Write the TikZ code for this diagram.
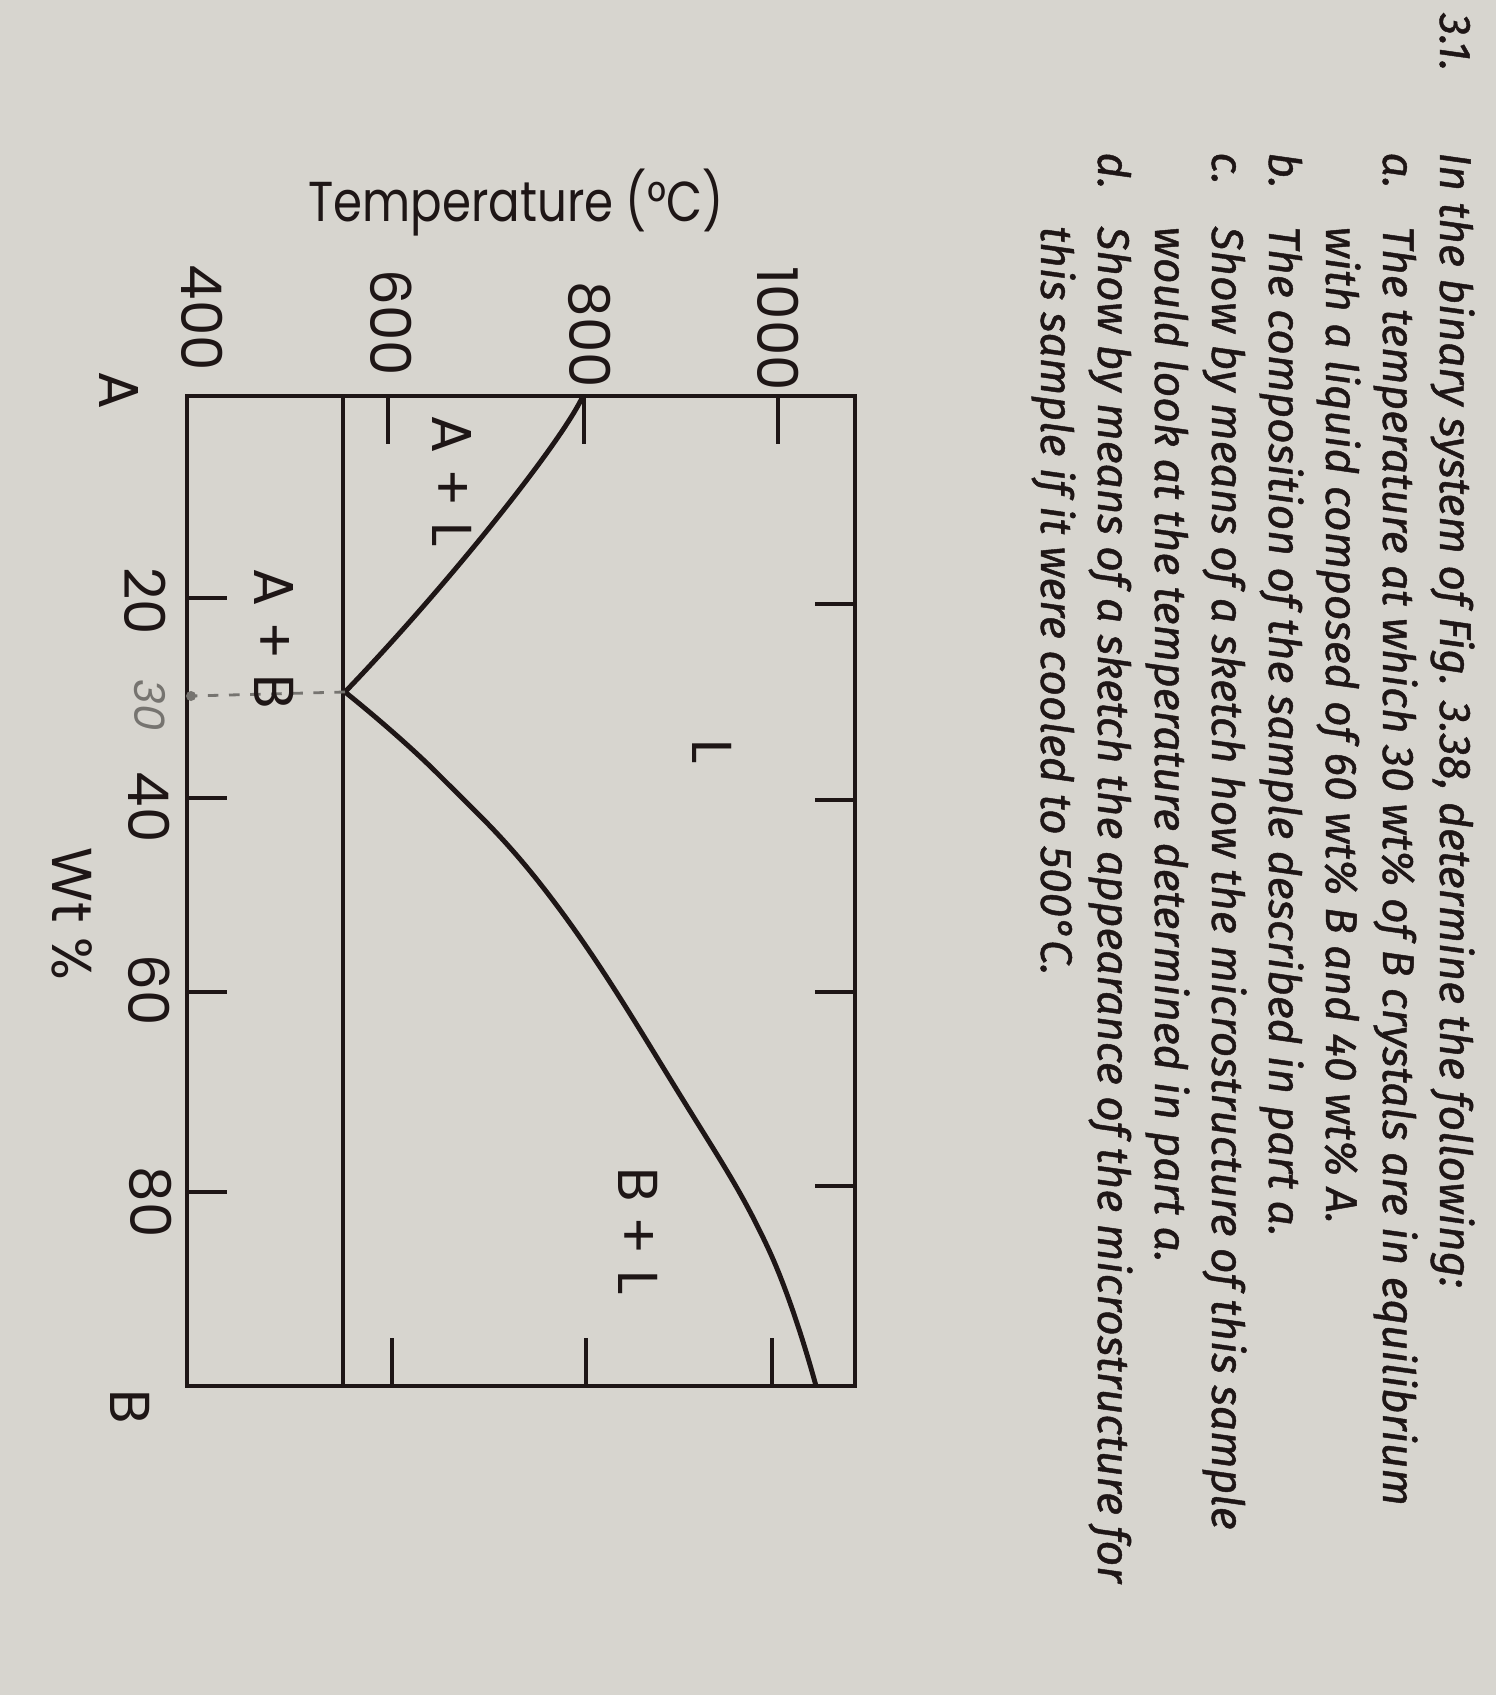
\documentclass[tikz,border=0pt]{standalone}
\usepackage{fontspec}
\setmainfont{Fira Sans}[ItalicFeatures={FakeBold=1}]
\newfontfamily\plotfont{Poppins}
\newfontfamily\ylabfont{Poppins}[FakeStretch=0.83]
\usetikzlibrary{positioning}
\definecolor{paper}{RGB}{215,213,207}
\definecolor{ink}{RGB}{30,22,22}
\definecolor{pencil}{RGB}{118,116,112}

\begin{document}
\begin{tikzpicture}[x=0.01cm, y=-0.01cm, line width=1.4pt, draw=ink,
    axlabel/.style={font=\plotfont\fontsize{16}{18}\selectfont, text=ink, rotate=-90, inner sep=0pt},
    qtext/.style={font=\itshape\fontsize{12.6}{14}\selectfont, text=ink, rotate=-90, anchor=base west, inner sep=0pt},
    tickline/.style={line width=1.1pt}]

    % page
    \fill[paper] (0,0) rectangle (1496,1695);

    % question text
    \node[qtext] (q0) at (1440,11) {3.1.};
    \node[qtext] (q1) at (1440,150) {In the binary system of Fig. 3.38, determine the following:};
    \node[qtext] (qa) at (1383,150) {a.};
    \node[qtext] (qa1) at (1383,224) {The temperature at which 30 wt\% of B crystals are in equilibrium};
    \node[qtext] (qa2) at (1326,224) {with a liquid composed of 60 wt\% B and 40 wt\% A.};
    \node[qtext] (qb) at (1269,150) {b.};
    \node[qtext] (qb1) at (1269,224) {The composition of the sample described in part a.};
    \node[qtext] (qc) at (1212,150) {c.};
    \node[qtext] (qc1) at (1212,224) {Show by means of a sketch how the microstructure of this sample};
    \node[qtext] (qc2) at (1155,224) {would look at the temperature determined in part a.};
    \node[qtext] (qd) at (1098,150) {d.};
    \node[qtext] (qd1) at (1098,224) {Show by means of a sketch the appearance of the microstructure for};
    \node[qtext] (qd2) at (1041,224) {this sample if it were cooled to 500°C.};

    % frame
    \coordinate (TL) at (187,396);
    \coordinate (TR) at (855,396);
    \coordinate (BR) at (855,1386);
    \coordinate (BL) at (187,1386);
    \draw[line cap=rect] (TL) -- (TR) -- (BR) -- (BL) -- cycle;

    % temperature ticks (top and bottom)
    \draw[tickline] (388,396) -- (388,444) (584,396) -- (584,444) (778,396) -- (778,444);
    \draw[tickline] (392,1386) -- (392,1338) (586,1386) -- (586,1338) (772,1386) -- (772,1338);
    % composition ticks (left and right)
    \draw[tickline] (187,598) -- (227,598) (187,798) -- (227,798) (187,992) -- (227,992) (187,1192) -- (227,1192);
    \draw[tickline] (855,604) -- (815,604) (855,800) -- (815,800) (855,992) -- (815,992) (855,1186) -- (815,1186);

    % eutectic isotherm and liquidus
    \coordinate (E) at (345,692);
    \coordinate (Am) at (583,396);
    \coordinate (Bm) at (816,1386);
    \draw (343,396) -- (343,1386);
    \draw (Am) .. controls (560,445) and (445,588) .. (E);
    \draw plot[smooth, tension=0.7] coordinates {(E) (440,776) (555,903) (680,1095) (768,1248) (Bm)};

    % pencil mark
    \coordinate (Ec) at (191,696);
    \draw[pencil, line width=0.8pt, dashed] (E) -- (Ec);
    \fill[pencil] (Ec) circle (5);
    \node[axlabel, text=pencil, font=\plotfont\itshape\fontsize{12}{14}\selectfont] (p30) at (150,705) {30};

    % axis labels
    \node[font=\ylabfont\fontsize{16}{18}\selectfont, text=ink, anchor=base west, inner sep=0pt] (ylab) at (306,222) {Temperature (°C)};
    \node[axlabel] (t400) at (202,318) {400};
    \node[axlabel] (t600) at (391,323) {600};
    \node[axlabel] (t800) at (590,335) {800};
    \node[axlabel] (t1000) at (778,329) {1000};
    \node[axlabel] (cA) at (119,390) {A};
    \node[axlabel] (c20) at (145,601) {20};
    \node[axlabel] (c40) at (149,807) {40};
    \node[axlabel] (c60) at (149,990) {60};
    \node[axlabel] (c80) at (151,1202) {80};
    \node[axlabel] (cB) at (130,1407) {B};
    \node[axlabel] (xlab) at (72,914) {Wt \%};

    % phase fields
    \node[axlabel] (AL) at (452,481) {A + L};
    \node[axlabel] (AB) at (274,639) {A + B};
    \node[axlabel] (Liq) at (712,752) {L};
    \node[axlabel] (BL2) at (638,1231) {B + L};

\end{tikzpicture}
\end{document}
